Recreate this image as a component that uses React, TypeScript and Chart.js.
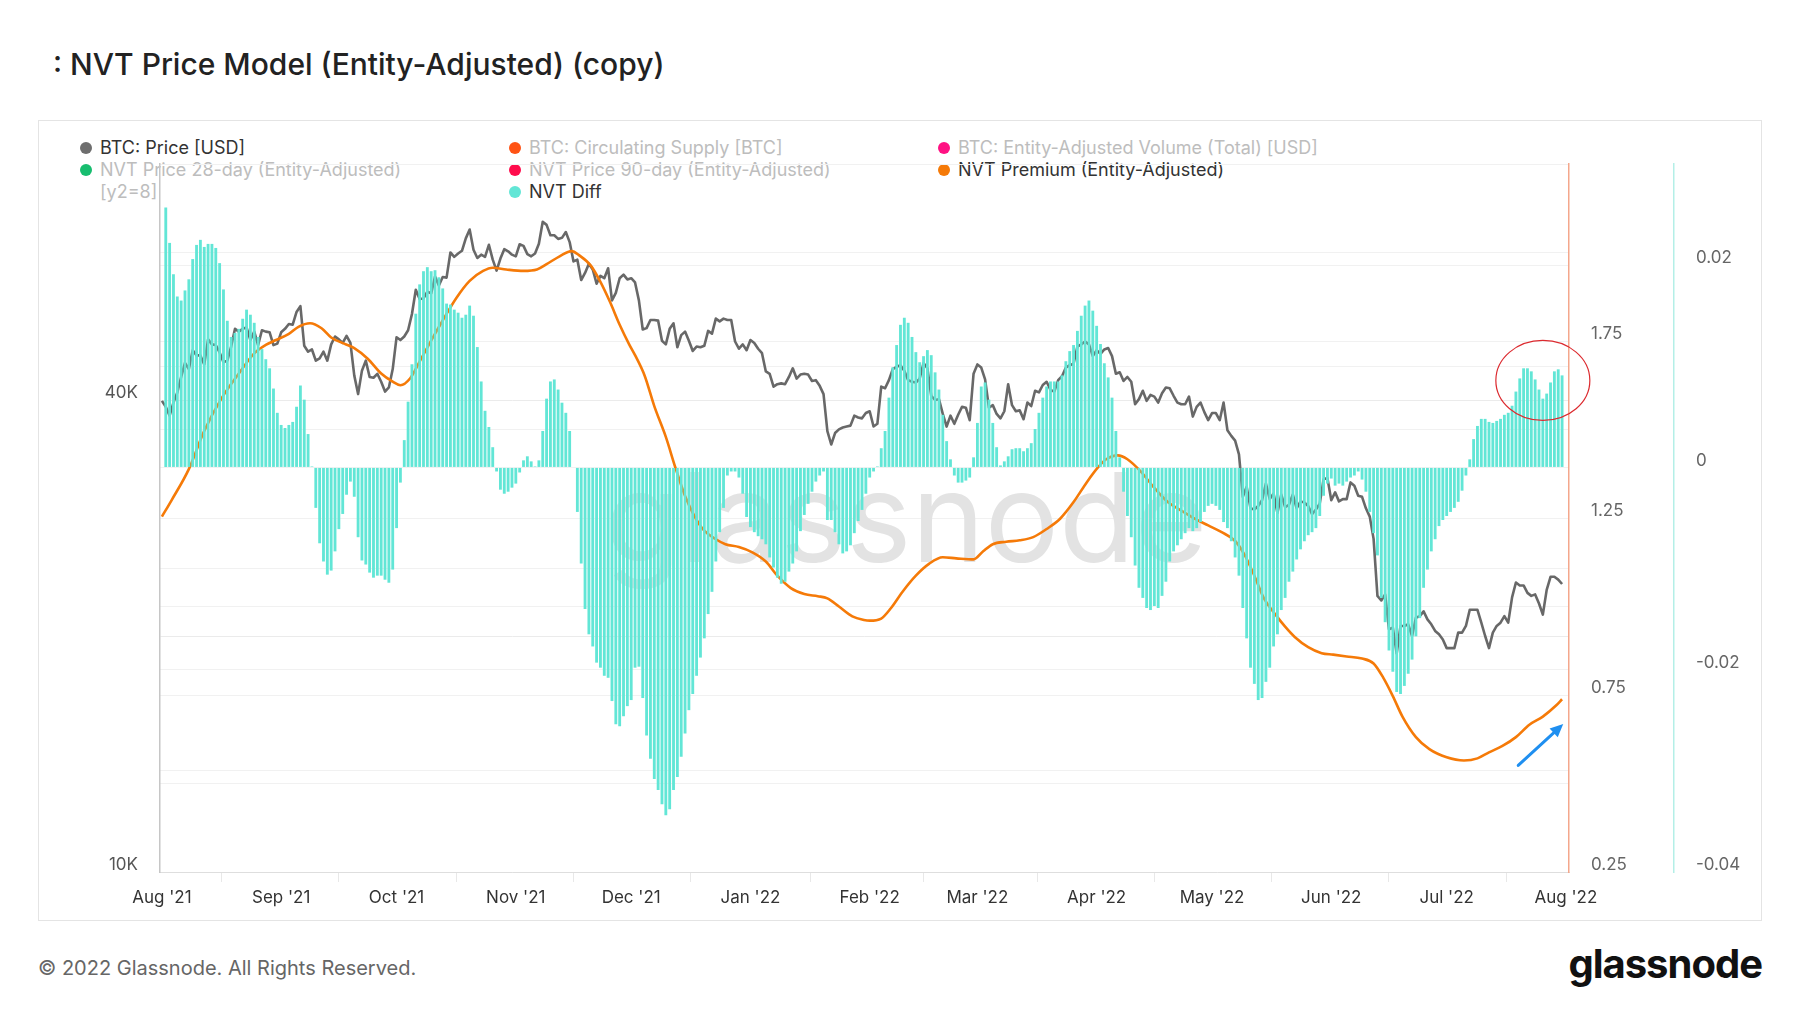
import React, { useEffect, useRef } from 'react';
import { Chart, registerables } from 'chart.js';

Chart.register(...registerables);

const FONT = 'Inter, "Noto Sans", "DejaVu Sans", sans-serif';

// ---- x axis (day index from 2021-08-01) ----
const monthTickDays = [0, 31, 61, 92, 122, 153, 184, 212, 243, 273, 304, 334, 365];
const monthTickLabels = ["Aug '21", "Sep '21", "Oct '21", "Nov '21", "Dec '21", "Jan '22", "Feb '22", "Mar '22", "Apr '22", "May '22", "Jun '22", "Jul '22", "Aug '22"];

// ---- BTC: Price [USD], daily, in thousands ----
const priceAug21 = [39.9, 39.2, 38.2, 39.7, 40.9, 42.8, 44.6, 43.8, 46.3, 45.6, 45.6, 44.4, 47.8, 47.1, 47.0, 46.0, 44.7, 44.9, 46.8, 49.3, 48.9, 49.3, 49.5, 47.7, 48.9, 47.0, 49.1, 48.9, 48.8, 47.0, 47.2];
const priceSep21 = [48.8, 49.3, 50.0, 49.9, 51.8, 52.7, 46.9, 46.1, 46.4, 44.9, 45.2, 46.1, 44.9, 47.1, 48.2, 47.8, 47.3, 48.3, 47.3, 43.0, 40.7, 43.6, 44.9, 42.8, 42.7, 43.2, 42.2, 41.0, 41.5, 43.8];
const priceOct21 = [48.1, 47.7, 48.2, 49.1, 51.5, 55.3, 53.8, 53.9, 55.0, 54.7, 57.5, 56.0, 57.4, 57.3, 61.7, 60.9, 61.5, 62.0, 64.3, 66.0, 62.2, 60.7, 61.3, 60.9, 63.1, 60.4, 58.5, 60.6, 62.3, 61.9, 61.3];
const priceNov21 = [61.0, 63.2, 62.9, 61.4, 61.0, 61.5, 63.3, 67.5, 66.9, 64.9, 64.9, 64.2, 64.4, 65.5, 63.6, 60.1, 60.4, 56.9, 58.1, 59.7, 58.7, 56.3, 57.6, 57.2, 58.9, 53.6, 54.8, 57.2, 57.8, 57.0];
const priceDec21 = [57.2, 56.5, 53.6, 49.2, 49.4, 50.6, 50.6, 50.5, 47.6, 47.1, 49.3, 50.1, 46.7, 48.4, 48.9, 47.6, 46.2, 46.8, 46.7, 46.9, 49.0, 48.6, 50.8, 50.4, 50.8, 50.6, 50.6, 47.5, 46.5, 47.1, 46.3];
const priceJan22 = [47.7, 47.3, 46.5, 45.9, 43.5, 43.2, 41.6, 41.9, 42.0, 41.9, 42.8, 43.9, 42.6, 43.1, 43.2, 43.1, 42.3, 42.4, 41.7, 40.7, 36.5, 35.1, 36.3, 36.7, 36.9, 37.0, 37.1, 38.2, 38.0, 37.9, 38.5];
const priceFeb22 = [38.7, 37.0, 37.3, 41.6, 41.4, 42.4, 43.8, 44.1, 44.3, 43.6, 42.4, 42.2, 42.1, 42.6, 44.6, 43.9, 40.5, 40.0, 40.1, 38.4, 37.0, 38.2, 37.3, 38.3, 39.2, 39.1, 37.7, 43.2];
const priceMar22 = [44.4, 44.0, 42.5, 39.1, 39.4, 38.4, 37.9, 38.7, 41.9, 39.4, 38.7, 38.8, 37.8, 39.7, 39.3, 41.1, 40.9, 41.8, 42.2, 41.2, 41.0, 42.4, 42.9, 44.0, 44.3, 44.5, 46.8, 47.1, 47.5, 47.1, 45.5];
const priceApr22 = [46.3, 45.8, 46.4, 46.6, 45.5, 43.2, 43.4, 42.3, 42.8, 42.2, 39.5, 40.1, 41.1, 39.9, 40.6, 40.4, 39.7, 40.8, 41.5, 41.4, 40.5, 39.7, 39.5, 39.5, 40.4, 38.1, 39.2, 39.7, 38.6, 37.7];
const priceMay22 = [38.5, 38.5, 37.7, 39.7, 36.6, 36.0, 35.5, 34.1, 30.1, 31.0, 29.1, 29.0, 29.3, 29.8, 31.3, 29.9, 30.4, 28.7, 30.3, 29.2, 29.4, 30.3, 29.1, 29.7, 29.6, 29.3, 28.6, 29.0, 29.5, 31.7, 31.8];
const priceJun22 = [29.8, 30.5, 29.7, 29.9, 29.9, 31.4, 31.1, 30.2, 30.1, 29.1, 28.4, 26.6, 22.5, 22.2, 22.6, 20.4, 20.5, 19.0, 20.6, 20.6, 20.7, 20.0, 21.1, 21.2, 21.5, 21.0, 20.7, 20.3, 20.1, 19.8];
const priceJul22 = [19.3, 19.3, 19.3, 20.2, 20.2, 20.6, 21.6, 21.6, 21.6, 20.8, 20.0, 19.3, 20.2, 20.6, 20.8, 21.2, 20.8, 22.4, 23.4, 23.2, 23.2, 22.7, 22.5, 22.6, 22.0, 21.3, 22.9, 23.8, 23.8, 23.6, 23.3];

// ---- NVT Diff, daily, in thousandths ----
const diffAug21 = [null, 25.7, 22.2, 19.1, 16.9, 16.5, 17.5, 18.6, 20.6, 22.0, 22.5, 21.8, 22.1, 22.1, 21.7, 20.2, 17.6, 14.5, 12.9, 13.3, 13.7, 14.7, 15.6, 15.1, 14.3, 12.9, 11.7, 10.7, 9.8, 7.8, 5.4];
const diffSep21 = [4.2, 3.9, 4.2, 4.5, 6.0, 8.1, 6.7, 3.3, 0.1, -4.0, -7.5, -9.3, -10.6, -10.2, -8.3, -6.1, -4.6, -2.7, -1.4, -2.9, -6.9, -9.2, -9.6, -10.4, -10.9, -10.7, -10.7, -11.1, -11.4, -10.1];
const diffOct21 = [-6.0, -1.5, 2.7, 6.5, 10.2, 15.2, 18.1, 19.4, 19.8, 19.4, 19.5, 18.8, 17.7, 16.2, 16.1, 15.6, 15.3, 14.8, 15.1, 16.0, 15.0, 11.9, 8.5, 5.6, 4.0, 2.0, -0.4, -2.2, -2.6, -2.4, -2.0];
const diffNov21 = [-1.6, -0.5, 0.7, 1.1, 0.6, 0.1, 0.7, 3.6, 6.8, 8.5, 8.7, 7.7, 6.4, 5.4, 3.6, 0.0, -4.4, -9.5, -14.0, -16.5, -17.7, -19.3, -19.8, -20.6, -20.8, -23.1, -25.4, -25.6, -24.6, -23.6];
const diffDec21 = [-23.0, -19.8, -19.7, -22.8, -26.5, -28.8, -30.8, -31.9, -33.3, -34.4, -33.8, -31.9, -30.6, -28.6, -26.3, -24.0, -22.4, -20.6, -18.8, -16.9, -14.5, -12.3, -9.3, -6.4, -4.0, -0.8, -0.4, -0.4, -1.0, -2.6, -4.9];
const diffJan22 = [-5.9, -6.4, -6.8, -7.1, -7.6, -8.9, -9.9, -10.9, -11.5, -11.3, -10.3, -9.5, -8.3, -6.3, -4.7, -3.6, -2.4, -1.4, -0.8, -0.4, -5.2, -5.2, -6.4, -7.6, -8.5, -8.3, -7.7, -6.5, -5.3, -4.2, -2.6];
const diffFeb22 = [-1.0, -0.4, 0.1, 1.9, 3.6, 6.9, 9.9, 12.1, 14.1, 14.8, 14.3, 12.9, 11.4, 10.4, 11.0, 11.6, 11.1, 9.4, 7.7, 5.2, 2.6, 0.8, -0.8, -1.5, -1.5, -1.3, -1.0, 1.0];
const diffMar22 = [4.4, 8.0, 8.4, 6.7, 4.4, 2.0, 0.2, 0.6, 1.1, 1.8, 1.9, 1.9, 1.6, 1.9, 2.4, 3.8, 5.4, 6.9, 8.0, 8.5, 8.5, 8.5, 9.1, 10.5, 11.5, 12.1, 13.5, 15.0, 16.0, 16.5, 15.5];
const diffApr22 = [14.0, 12.2, 10.3, 8.9, 6.9, 3.6, 1.0, -2.4, -4.8, -6.9, -9.7, -11.9, -12.9, -13.9, -14.1, -13.7, -13.9, -12.7, -11.3, -9.3, -8.3, -7.7, -7.1, -6.5, -6.0, -6.3, -6.0, -5.4, -4.4, -3.8];
const diffMay22 = [-3.6, -3.8, -4.2, -5.4, -6.0, -7.3, -8.9, -10.7, -13.9, -16.9, -19.8, -21.4, -23.0, -22.8, -21.2, -19.8, -17.7, -16.5, -14.1, -12.9, -11.3, -10.3, -9.1, -8.1, -7.3, -6.7, -6.4, -6.0, -4.8, -2.8, -1.6];
const diffJun22 = [-1.1, -1.8, -1.6, -1.8, -1.4, -1.0, -0.8, -0.4, -1.2, -2.4, -4.4, -6.5, -8.7, -12.9, -15.3, -18.1, -20.2, -22.2, -22.4, -21.6, -20.4, -19.0, -16.7, -14.9, -11.9, -10.1, -8.3, -7.1, -5.8, -5.2];
const diffJul22 = [-4.8, -4.4, -4.0, -3.4, -2.3, -0.8, 0.8, 2.8, 4.1, 4.8, 4.8, 4.5, 4.4, 4.6, 4.8, 5.2, 5.4, 6.1, 7.5, 8.8, 9.8, 9.8, 9.5, 8.7, 7.7, 6.8, 7.3, 8.4, 9.5, 9.7, 9.1];

// ---- NVT Premium (Entity-Adjusted), sampled along the curve ----
const premiumDays = [0, 2.5, 7, 11, 15.5, 20, 24, 27, 29.5, 33, 35.5, 38.5, 41.5, 44, 47.5, 50, 53.5, 57, 60, 62, 64.5, 67, 70.5, 73, 76.5, 80, 83.5, 86, 89.5, 94, 97.5, 100, 103.5, 106.5, 108.5, 111.5, 114, 116.5, 119, 121.5, 123, 125.5, 128, 131, 133.5, 136, 138.5, 141, 144, 146.5, 150, 153.5, 157, 160, 163.5, 167, 170.5, 173, 176, 179.5, 182.5, 184, 187, 189.5, 192.5, 196, 199.5, 203, 206.5, 211, 213.5, 216, 219.5, 223, 226.5, 230, 233.5, 237, 240.5, 243.5, 245.5, 248.5, 251, 254.5, 258, 261.5, 265, 268.5, 272, 275.5, 279, 281.5, 284, 286.5, 289.5, 292, 294.5, 298, 301.5, 304.5, 308, 312, 315, 317.5, 320, 322.5, 326, 329.5, 334, 338.5, 342, 345, 348.5, 352, 355.5, 359, 362.5, 364];
const premiumValues = [1.254, 1.30, 1.388, 1.496, 1.588, 1.658, 1.715, 1.739, 1.752, 1.77, 1.79, 1.80, 1.786, 1.76, 1.742, 1.73, 1.70, 1.658, 1.635, 1.625, 1.644, 1.692, 1.761, 1.808, 1.871, 1.92, 1.948, 1.957, 1.952, 1.948, 1.952, 1.967, 1.99, 2.004, 1.992, 1.963, 1.917, 1.86, 1.796, 1.74, 1.71, 1.652, 1.566, 1.479, 1.392, 1.312, 1.254, 1.214, 1.19, 1.176, 1.168, 1.153, 1.127, 1.087, 1.052, 1.035, 1.029, 1.023, 1.0, 0.972, 0.962, 0.96, 0.966, 0.995, 1.041, 1.087, 1.121, 1.139, 1.136, 1.133, 1.156, 1.176, 1.183, 1.187, 1.196, 1.219, 1.248, 1.295, 1.352, 1.395, 1.416, 1.427, 1.416, 1.381, 1.335, 1.295, 1.271, 1.248, 1.229, 1.21, 1.185, 1.145, 1.087, 1.023, 0.977, 0.943, 0.914, 0.885, 0.868, 0.864, 0.859, 0.853, 0.839, 0.799, 0.747, 0.689, 0.631, 0.597, 0.574, 0.565, 0.571, 0.588, 0.606, 0.631, 0.666, 0.689, 0.721, 0.738];

// ---- axis ticks ----
const priceTickValues = [10000, 20000, 40000, 80000];
const priceTickLabels = ['10K', '', '40K', ''];
const premiumTickLabels = ['0.25', '0.75', '1.25', '1.75'];
const diffTickLabels = ['-0.04', '-0.02', '0', '0.02'];

// ---- legend ----
const legendItems = [
  { label: 'BTC: Price [USD]', color: '#6e6e6e', active: true, col: 0, row: 0 },
  { label: 'BTC: Circulating Supply [BTC]', color: '#ff5314', active: false, col: 1, row: 0 },
  { label: 'BTC: Entity-Adjusted Volume (Total) [USD]', color: '#ff1283', active: false, col: 2, row: 0 },
  { label: 'NVT Price 28-day (Entity-Adjusted)', color: '#17bd6f', active: false, col: 0, row: 1 },
  { label: 'NVT Price 90-day (Entity-Adjusted)', color: '#ff0c4c', active: false, col: 1, row: 1 },
  { label: 'NVT Premium (Entity-Adjusted)', color: '#f57a08', active: true, col: 2, row: 1 },
  { label: 'NVT Diff', color: '#62e6d6', active: true, col: 1, row: 2 },
];

// ---- annotations (data units) ----
const highlightEllipse = { day: 359, value: 0.0086, rx: 47, ry: 40 };
const trendArrow = { fromDay: 352.6, fromValue: 0.551, toDay: 364.3, toValue: 0.668 };

const GREY = '#686868';
const ORANGE = '#f57a08';
const TURQ = 'rgb(98, 230, 214)';

const decorPlugin = {
  id: 'decor',
  beforeDatasetsDraw(chart: any) {
    const { ctx } = chart;
    ctx.save();
    ctx.font = `400 124px ${FONT}`;
    ctx.fillStyle = '#e3e3e3';
    ctx.textAlign = 'center';
    ctx.textBaseline = 'alphabetic';
    ctx.fillText('glassnode', 868, 442);
    ctx.restore();
  },
  afterDraw(chart: any) {
    const { ctx, scales } = chart;
    const xs = scales.x;
    const yd = scales.yDiff;
    const yp = scales.yPrem;
    ctx.save();
    ctx.beginPath();
    ctx.ellipse(
      xs.getPixelForValue(highlightEllipse.day),
      yd.getPixelForValue(highlightEllipse.value),
      highlightEllipse.rx,
      highlightEllipse.ry,
      0, 0, Math.PI * 2
    );
    ctx.strokeStyle = '#dc2a2f';
    ctx.lineWidth = 1.2;
    ctx.stroke();

    const x1 = xs.getPixelForValue(trendArrow.fromDay);
    const y1 = yp.getPixelForValue(trendArrow.fromValue);
    const x2 = xs.getPixelForValue(trendArrow.toDay);
    const y2 = yp.getPixelForValue(trendArrow.toValue);
    const ang = Math.atan2(y2 - y1, x2 - x1);
    const headLen = 13;
    const headW = 6;
    const bx = x2 - headLen * Math.cos(ang);
    const by = y2 - headLen * Math.sin(ang);
    ctx.strokeStyle = '#1f8ff0';
    ctx.fillStyle = '#1f8ff0';
    ctx.lineWidth = 3;
    ctx.lineCap = 'round';
    ctx.beginPath();
    ctx.moveTo(x1, y1);
    ctx.lineTo(bx, by);
    ctx.stroke();
    ctx.beginPath();
    ctx.moveTo(x2, y2);
    ctx.lineTo(bx + headW * Math.sin(ang), by - headW * Math.cos(ang));
    ctx.lineTo(bx - headW * Math.sin(ang), by + headW * Math.cos(ang));
    ctx.closePath();
    ctx.fill();
    ctx.restore();
  },
};

export default function App() {
  const canvasRef = useRef<HTMLCanvasElement>(null);

  useEffect(() => {
    const canvas = canvasRef.current;
    if (!canvas) return;

    const priceK = [
      ...priceAug21, ...priceSep21, ...priceOct21, ...priceNov21, ...priceDec21, ...priceJan22,
      ...priceFeb22, ...priceMar22, ...priceApr22, ...priceMay22, ...priceJun22, ...priceJul22,
    ];
    const diffMilli = [
      ...diffAug21, ...diffSep21, ...diffOct21, ...diffNov21, ...diffDec21, ...diffJan22,
      ...diffFeb22, ...diffMar22, ...diffApr22, ...diffMay22, ...diffJun22, ...diffJul22,
    ];

    const priceData = priceK.map((v, i) => ({ x: i, y: v * 1000 }));
    const diffData = diffMilli
      .map((v, i) => (v === null ? null : { x: i, y: (v as number) / 1000 }))
      .filter((p) => p !== null);
    const premiumData = premiumDays.map((d, i) => ({ x: d, y: premiumValues[i] }));

    const tickFont = { family: FONT, size: 17 };

    const chart = new Chart(canvas, {
      type: 'bar',
      data: {
        datasets: [
          {
            type: 'bar',
            label: 'NVT Diff',
            data: diffData as any,
            yAxisID: 'yDiff',
            backgroundColor: TURQ,
            borderWidth: 0,
            barPercentage: 0.74,
            categoryPercentage: 1,
            order: 0,
          },
          {
            type: 'line',
            label: 'NVT Premium (Entity-Adjusted)',
            data: premiumData as any,
            yAxisID: 'yPrem',
            borderColor: ORANGE,
            borderWidth: 2.6,
            pointRadius: 0,
            cubicInterpolationMode: 'monotone',
            order: 1,
          },
          {
            type: 'line',
            label: 'BTC: Price [USD]',
            data: priceData as any,
            yAxisID: 'yPrice',
            borderColor: GREY,
            borderWidth: 2.6,
            pointRadius: 0,
            tension: 0,
            borderJoinStyle: 'round',
            order: 2,
          },
        ],
      },
      options: {
        responsive: false,
        animation: false,
        devicePixelRatio: 1,
        events: [],
        layout: { padding: { top: 44, left: 0, right: 0, bottom: 0 } },
        plugins: { legend: { display: false }, tooltip: { enabled: false } },
        scales: {
          x: {
            type: 'linear',
            min: -0.5,
            max: 365.8,
            offset: false,
            afterBuildTicks: (s: any) => {
              s.ticks = monthTickDays.map((v) => ({ value: v }));
            },
            afterFit: (s: any) => {
              s.height = 49;
            },
            ticks: {
              autoSkip: false,
              maxRotation: 0,
              padding: 6,
              color: '#333',
              font: tickFont,
              callback: (v: any) => {
                const i = monthTickDays.indexOf(Number(v));
                return i >= 0 ? monthTickLabels[i] : '';
              },
            },
            grid: { drawOnChartArea: false, drawTicks: true, tickLength: 10, color: '#e8e8e8' },
            border: { display: true, color: '#dedede', width: 1 },
          },
          yPrice: {
            type: 'logarithmic',
            position: 'left',
            min: 10000,
            max: 80000,
            afterBuildTicks: (s: any) => {
              s.ticks = priceTickValues.map((v) => ({ value: v }));
            },
            afterFit: (s: any) => {
              s.width = 122;
            },
            ticks: {
              padding: 22,
              labelOffset: -7,
              color: '#555',
              font: tickFont,
              callback: (v: any) => {
                const i = priceTickValues.indexOf(Number(v));
                return i >= 0 ? priceTickLabels[i] : '';
              },
            },
            grid: { color: '#ebebeb', drawTicks: false },
            border: { display: true, color: '#c6c6c6', width: 1.5 },
          },
          yPrem: {
            type: 'linear',
            position: 'right',
            min: 0.25,
            max: 2.25,
            afterFit: (s: any) => {
              s.width = 105;
            },
            ticks: {
              stepSize: 0.25,
              padding: 22,
              labelOffset: -7,
              color: '#666',
              font: tickFont,
              callback: (v: any) => {
                const s = String(+Number(v).toFixed(2));
                return premiumTickLabels.includes(s) ? s : '';
              },
            },
            grid: { color: '#f1f1f1', drawTicks: false },
            border: { display: true, color: '#f4a78c', width: 1.5 },
          },
          yDiff: {
            type: 'linear',
            position: 'right',
            min: -0.04,
            max: 0.03,
            afterFit: (s: any) => {
              s.width = 88;
            },
            ticks: {
              stepSize: 0.01,
              padding: 22,
              labelOffset: -7,
              color: '#666',
              font: tickFont,
              callback: (v: any) => {
                const s = String(+Number(v).toFixed(2));
                return diffTickLabels.includes(s) ? s : '';
              },
            },
            grid: { color: '#f1f1f1', drawTicks: false },
            border: { display: true, color: '#b4efe7', width: 1.5 },
          },
        },
      } as any,
      plugins: [decorPlugin as any],
    });

    return () => chart.destroy();
  }, []);

  const colDot = [86, 515, 944];
  const rowY = [148, 170, 192];

  return (
    <div
      style={{
        position: 'absolute',
        left: 0,
        top: 0,
        width: 1800,
        height: 1013,
        background: '#fff',
        overflow: 'hidden',
        fontFamily: FONT,
      }}
    >
      <div
        style={{
          position: 'absolute',
          left: 53,
          top: 49,
          fontSize: 30,
          lineHeight: '30px',
          fontWeight: 500,
          color: '#222',
          whiteSpace: 'nowrap',
        }}
      >
        : NVT Price Model (Entity-Adjusted) (copy)
      </div>

      <div
        style={{
          position: 'absolute',
          left: 38,
          top: 120,
          width: 1724,
          height: 801,
          border: '1px solid #e4e4e4',
          boxSizing: 'border-box',
          zIndex: 0,
        }}
      />

      {legendItems.map((it) => (
        <div
          key={it.label}
          style={{
            position: 'absolute',
            left: colDot[it.col] - 6,
            top: rowY[it.row] - 10,
            height: 20,
            display: 'flex',
            alignItems: 'center',
            whiteSpace: 'nowrap',
            zIndex: 1,
          }}
        >
          <span
            style={{
              display: 'inline-block',
              width: 12,
              height: 12,
              borderRadius: '50%',
              background: it.color,
              marginRight: 8,
            }}
          />
          <span style={{ fontSize: 18, lineHeight: '20px', color: it.active ? '#333' : '#bdbdbd' }}>{it.label}</span>
        </div>
      ))}
      <div
        style={{
          position: 'absolute',
          left: 100,
          top: rowY[2] - 10,
          fontSize: 18,
          lineHeight: '20px',
          color: '#bdbdbd',
          zIndex: 1,
        }}
      >
        [y2=8]
      </div>

      <canvas
        ref={canvasRef}
        width={1724}
        height={801}
        style={{ position: 'absolute', left: 38, top: 120, width: 1724, height: 801, zIndex: 2 }}
      />

      <div
        style={{
          position: 'absolute',
          left: 38,
          top: 958,
          fontSize: 20,
          lineHeight: '20px',
          color: '#666',
          whiteSpace: 'nowrap',
        }}
      >
        © 2022 Glassnode. All Rights Reserved.
      </div>
      <div
        style={{
          position: 'absolute',
          right: 38,
          top: 944,
          fontSize: 40,
          lineHeight: '40px',
          fontWeight: 700,
          color: '#111',
          letterSpacing: '-1px',
          whiteSpace: 'nowrap',
        }}
      >
        glassnode
      </div>
    </div>
  );
}
